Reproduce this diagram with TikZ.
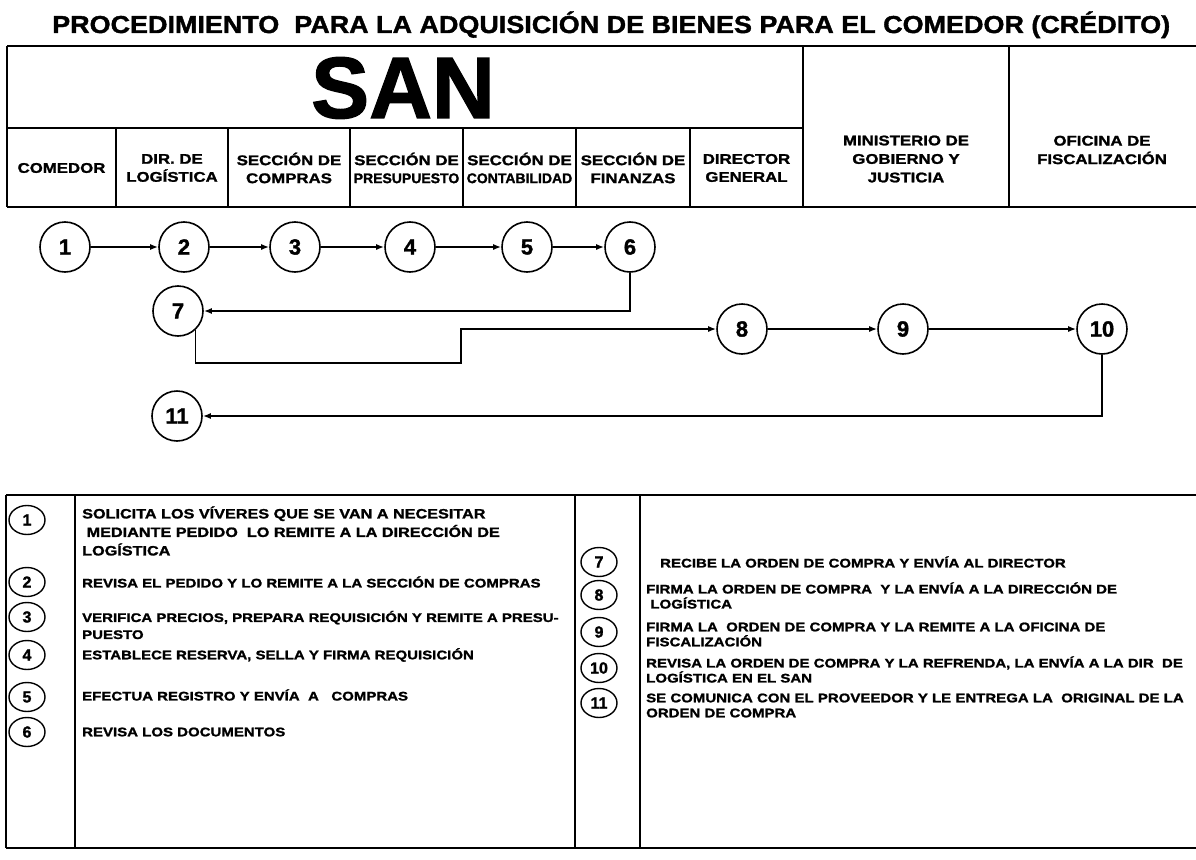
\documentclass[tikz,border=0pt]{standalone}
\usepackage{fontspec}
\setmainfont{Liberation Sans}
\newfontfamily\heavy{Liberation Sans Bold}[FakeBold=1.5]
\newfontfamily\heavytitle{Liberation Sans Bold}[FakeBold=1.5,FakeStretch=1.1]
\newfontfamily\heavywide{Liberation Sans Bold}[FakeBold=1.5,FakeStretch=1.2]
\usetikzlibrary{arrows.meta,shapes.geometric}
\begin{document}
\begin{tikzpicture}[x=1pt,y=-1pt,
  rule/.style={line width=1.8pt},
  legrule/.style={line width=1.6pt},
  flow/.style={circle,draw,line width=1.6pt,minimum size=50pt,inner sep=0pt,font=\heavy\fontsize{22}{22}\selectfont},
  arr/.style={line width=1.5pt,-{Latex[length=8pt,width=6pt]}},
  hdr/.style={font=\heavywide\fontsize{14}{18}\selectfont,align=center,inner sep=0pt},
  ministry/.style={font=\heavywide\fontsize{14}{18.5}\selectfont,align=center,inner sep=0pt},
  leg/.style={ellipse,draw,line width=1.4pt,minimum width=36pt,minimum height=29pt,inner sep=0pt,font=\heavy\fontsize{16}{16}\selectfont},
  txtl/.style={font=\heavywide\fontsize{12.5}{17}\selectfont,align=left,anchor=west,inner sep=0pt},
  txtr/.style={font=\heavywide\fontsize{12.5}{15}\selectfont,align=left,anchor=west,inner sep=0pt},
]
\useasboundingbox (0,0) rectangle (1196,859);

% title
\node[anchor=base west,inner sep=0pt,font=\heavytitle\fontsize{24.5}{25}\selectfont] (title) at (52,33)
  {PROCEDIMIENTO\ \ PARA LA ADQUISICIÓN DE BIENES PARA EL COMEDOR (CRÉDITO)};

% header table
\draw[rule] (7,46) -- (1196,46);
\draw[rule] (7,207) -- (1196,207);
\draw[rule] (7,46) -- (7,207);
\draw[rule] (7,128) -- (803,128);
\foreach \xx in {116,228,350,463,576,690} {\draw[rule] (\xx,128) -- (\xx,207);}
\foreach \xx in {803,1009} {\draw[rule] (\xx,46) -- (\xx,207);}

\node[inner sep=0pt,font=\heavy\fontsize{87}{87}\selectfont] (san) at (403,88) {SAN};

\node[hdr] (c1) at (61.5,168) {COMEDOR};
\node[hdr] (c2) at (172,168) {DIR. DE\\LOGÍSTICA};
\node[hdr] (c3) at (289,168) {SECCIÓN DE\\COMPRAS};
\node[hdr] (c4) at (406.5,168) {SECCIÓN DE\\{\heavy PRESUPUESTO}};
\node[hdr] (c5) at (519.5,168) {SECCIÓN DE\\{\heavy CONTABILIDAD}};
\node[hdr] (c6) at (633,168) {SECCIÓN DE\\FINANZAS};
\node[hdr] (c7) at (746.5,168) {DIRECTOR\\GENERAL};
\node[ministry] (c8) at (906,159) {MINISTERIO DE\\GOBIERNO Y\\JUSTICIA};
\node[ministry] (c9) at (1102,150) {OFICINA DE\\FISCALIZACIÓN};

% flow
\node[flow] (n1) at (65,247) {1};
\node[flow] (n2) at (184,247) {2};
\node[flow] (n3) at (295,247) {3};
\node[flow] (n4) at (410,247) {4};
\node[flow] (n5) at (527,247) {5};
\node[flow] (n6) at (630,247) {6};
\node[flow] (n7) at (178,311) {7};
\node[flow] (n8) at (742,329) {8};
\node[flow] (n9) at (903,329) {9};
\node[flow] (n10) at (1102,329) {10};
\node[flow] (n11) at (177,416) {11};
\coordinate (k1) at (461,363);

\draw[arr] (n1) -- (n2);
\draw[arr] (n2) -- (n3);
\draw[arr] (n3) -- (n4);
\draw[arr] (n4) -- (n5);
\draw[arr] (n5) -- (n6);
\draw[arr] (n6.south) |- (n7.east);
\draw[arr] (n7.-47) |- (k1) |- (n8.west);
\draw[arr] (n8) -- (n9);
\draw[arr] (n9) -- (n10);
\draw[arr] (n10.south) |- (n11.east);

% legend table
\draw[legrule] (6,495) -- (1196,495);
\draw[legrule] (6,848) -- (1196,848);
\foreach \xx in {6,75,575,640} {\draw[legrule] (\xx,495) -- (\xx,848);}

\node[leg] (l1) at (27,520) {1};
\node[leg] (l2) at (27,582) {2};
\node[leg] (l3) at (27,617) {3};
\node[leg] (l4) at (27,655) {4};
\node[leg] (l5) at (27,697) {5};
\node[leg] (l6) at (27,732) {6};
\node[leg] (l7) at (599,562) {7};
\node[leg] (l8) at (599,595) {8};
\node[leg] (l9) at (599,632) {9};
\node[leg] (l10) at (599,668) {10};
\node[leg] (l11) at (599,703) {11};

\node[txtl,font=\heavywide\fontsize{13.5}{18.5}\selectfont] (t1) at (82,531) {SOLICITA LOS VÍVERES QUE SE VAN A NECESITAR\\\ MEDIANTE PEDIDO\ \ LO REMITE A LA DIRECCIÓN DE\\LOGÍSTICA};
\node[txtl] (t2) at (82,582) {REVISA EL PEDIDO Y LO REMITE A LA SECCIÓN DE COMPRAS};
\node[txtl] (t3) at (82,625) {VERIFICA PRECIOS, PREPARA REQUISICIÓN Y REMITE A PRESU-\\PUESTO};
\node[txtl] (t4) at (82,655) {ESTABLECE RESERVA, SELLA Y FIRMA REQUISICIÓN};
\node[txtl] (t5) at (82,695) {EFECTUA REGISTRO Y ENVÍA\ \ A\ \ \ COMPRAS};
\node[txtl] (t6) at (82,732) {REVISA LOS DOCUMENTOS};

\node[txtr] (t7) at (660,562) {RECIBE LA ORDEN DE COMPRA Y ENVÍA AL DIRECTOR};
\node[txtr] (t8) at (646,595.5) {FIRMA LA ORDEN DE COMPRA\ \ Y LA ENVÍA A LA DIRECCIÓN DE\\\ LOGÍSTICA};
\node[txtr] (t9) at (646,634.5) {FIRMA LA\ \ ORDEN DE COMPRA Y LA REMITE A LA OFICINA DE\\FISCALIZACIÓN};
\node[txtr] (t10) at (646,669.5) {REVISA LA ORDEN DE COMPRA Y LA REFRENDA, LA ENVÍA A LA DIR\ \ DE\\LOGÍSTICA EN EL SAN};
\node[txtr] (t11) at (646,705.5) {SE COMUNICA CON EL PROVEEDOR Y LE ENTREGA LA\ \ ORIGINAL DE LA\\ORDEN DE COMPRA};
\end{tikzpicture}
\end{document}
